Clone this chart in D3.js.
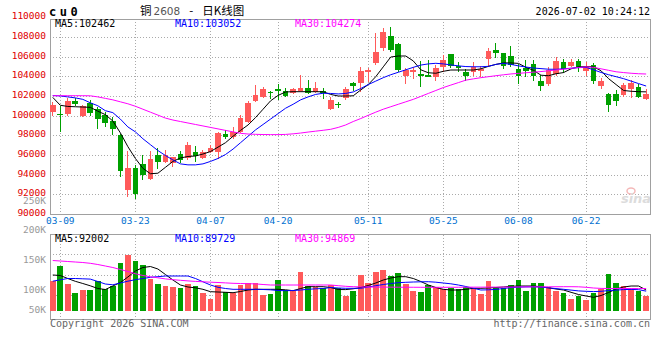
<!DOCTYPE html>
<html>
<head>
<meta charset="utf-8">
<script src="https://cdn.jsdelivr.net/npm/d3@7"></script>
<style>
  html, body { margin: 0; padding: 0; background: #fff; }
  svg { display: block; }
  text { font-family: "DejaVu Sans Mono", monospace; }
</style>
</head>
<body>
<svg id="chart" width="660" height="360"></svg>
<script>
// trading days shown (03-06 .. 07-02)
const dates = ['03-06','03-09','03-10','03-11','03-12','03-13','03-16','03-17','03-18','03-19','03-20',
	'03-23','03-24','03-25','03-26','03-27','03-30','03-31','04-01','04-02','04-03',
	'04-07','04-08','04-09','04-10','04-13','04-14','04-15','04-16','04-17',
	'04-20','04-21','04-22','04-23','04-24','04-27','04-28','04-29','04-30',
	'05-06','05-07','05-08','05-11','05-12','05-13','05-14','05-15',
	'05-18','05-19','05-20','05-21','05-22','05-25','05-26','05-27','05-28','05-29',
	'06-01','06-02','06-03','06-04','06-05','06-08','06-09','06-10','06-11','06-12',
	'06-15','06-16','06-17','06-18','06-22','06-23','06-24','06-25','06-26',
	'06-29','06-30','07-01','07-02']
const dateTicks = ['03-09','03-23','04-07','04-20','05-11','05-25','06-08','06-22']

const opens = [100450,100260,100214,101565,100042,101362,100692,100113,99534,98083,
	92540,94700,95140,93617,96053,95373,95210,96155,95718,96388,
	95718,96388,96388,98185,97850,98418,99433,101565,101910,102480,
	102750,102580,102316,102550,102884,102478,102550,100690,101230,101800,
	103390,103330,104508,105360,106883,108162,107320,104071,104447,104244,
	104173,104000,104955,106305,105087,104508,104447,104610,105797,106710,
	106376,106100,104750,104850,105290,103594,103260,104244,105525,105117,
	105595,104610,105190,103087,102245,102245,102143,102722,102924,101737]
const highs = [101460,101026,101808,101808,101130,101636,100955,100450,99880,98185,
	96489,95038,96053,96489,96764,96600,95880,96489,97403,96966,
	96600,97068,98418,98590,98864,100113,101500,103158,102950,102580,
	103260,102850,102900,104173,103665,103500,102820,101910,101463,102985,
	103495,105016,104883,108467,108913,109075,107400,104850,105016,105594,
	105700,105190,106200,106305,105460,104750,105460,105100,106880,107455,
	106440,107116,105260,105700,105700,104173,105000,106030,105770,105800,
	105770,105460,105360,103900,102376,102650,103330,103665,103250,102800]
const lows = [100010,98418,100012,101026,99940,100012,98720,98925,98053,93850,
	91820,91556,93515,93465,94632,95240,94805,95272,95545,95373,
	95600,96300,95616,97646,97646,98286,99300,101450,101800,101707,
	101636,101900,102200,102400,102200,102300,101737,100620,100800,101636,
	102580,102478,103431,105200,106600,106500,104508,103229,103767,102985,
	103940,103594,104508,104900,104508,103594,104100,104000,105016,105870,
	104750,105000,103260,103940,103594,102550,103100,104100,104350,104950,
	104500,104100,103260,102800,100448,101030,101900,101808,101800,101600]
const closes = [101130,100170,101565,101199,101026,100346,99676,99331,98661,94460,
	94774,92095,94023,95615,95373,96053,95820,95545,97068,95951,
	96388,96730,98316,97850,98418,99778,101300,102143,102752,102346,
	102550,102040,102722,102884,102376,102884,102376,101636,101100,102750,
	103057,104579,104680,106538,108507,106710,104680,104680,104680,104100,
	104000,104914,105695,105117,104914,104071,104955,104750,106640,106376,
	105087,105190,104100,104610,104100,103057,104680,105595,104750,105525,
	104914,105016,103594,103564,101128,101565,103158,103390,101910,102290]

// price moving averages
const ma5 = [101900,101100,100980,100950,100920,100890,100500,100150,99500,98300,
	96900,95700,94700,94150,94200,94800,95400,95750,95900,95950,
	96150,96400,96850,97300,97950,98550,99100,99850,100700,101550,
	102100,102450,102480,102480,102480,102480,102470,102200,102040,102040,
	102060,102650,103200,104000,105000,106000,106100,106100,105600,104700,
	104400,104350,104550,104680,104680,104680,104680,104800,105050,105250,
	105400,105400,105350,104950,104650,104150,104100,104300,104420,104800,
	105000,105020,105010,104600,103800,103200,102600,102520,102480,102462]
const ma10 = [102090,102050,101950,101850,101700,101350,101050,100550,100350,99700,
	98900,98400,97700,97100,96500,96000,95550,95150,95050,95050,
	95150,95400,95700,96100,96650,97300,97950,98600,99150,99700,
	100250,100800,101200,101650,101950,102200,102320,102300,102250,102300,
	102450,102800,103200,103550,103900,104200,104450,104700,104950,105180,
	105300,105360,105300,105200,105100,105030,105010,105010,105050,105250,
	105350,105250,105100,104980,104880,104820,104760,104750,104800,104860,
	104920,104950,104700,104430,104200,104000,103800,103550,103300,103052]
const ma30 = [102070,102070,102070,102070,102070,102060,101950,101800,101650,101450,
	101250,101000,100700,100400,100100,99800,99600,99450,99300,99150,
	99000,98850,98700,98550,98400,98250,98180,98150,98130,98120,
	98120,98140,98200,98280,98380,98470,98560,98660,98850,99100,
	99450,99750,100080,100400,100700,100950,101200,101450,101700,102000,
	102300,102600,102900,103150,103400,103650,103780,103900,104000,104100,
	104190,104280,104340,104400,104460,104520,104600,104680,104760,104850,
	104930,105000,104950,104800,104650,104500,104420,104350,104300,104274]

const volumes = [110700,140000,104000,86700,92000,92000,110000,93300,100000,146700,
	162000,150000,142000,114000,104000,100000,98000,95300,104000,100000,
	86700,74700,102000,88700,85300,102000,105300,105300,82000,84000,
	112000,92000,90700,128000,100000,98700,95300,102000,95300,80700,
	90000,122000,106700,128000,132000,120700,126700,104000,90000,88700,
	102000,97300,93300,96700,93300,97300,96700,84000,110700,96700,
	96700,102000,112000,90000,106700,106700,97300,90000,86700,74000,
	80700,72000,85300,93300,124000,106700,100000,93300,90000,80700]
const volMa5 = [122000,121000,115000,109400,105000,100400,95000,93000,100000,107000,
	118000,130000,137000,139000,134000,123000,112000,102000,98000,96400,
	93400,88600,88000,87400,86600,89000,92000,93400,93400,93400,
	93400,92400,90600,95000,98600,98600,98600,97000,93000,92800,
	94400,97000,101000,106000,112000,116000,118600,118600,115000,109000,
	102000,97000,93400,92000,92000,93400,95400,95400,96000,97000,
	98000,99400,100000,100000,100000,98400,96400,94000,92000,87400,
	83000,80000,77400,81000,87000,94000,98000,100000,100000,92002]
const volMa10 = [109600,112400,115000,115000,114400,113800,109000,104000,102400,106000,
	109600,112600,115000,117400,118600,120000,120000,120000,120000,115000,
	108400,102000,97400,95000,93400,93400,93400,93400,93000,92400,
	91000,90600,91000,92000,93400,94400,95000,97000,96000,95400,
	95400,95400,98000,100600,103000,105000,106600,107400,108000,108400,
	108600,107600,106000,104400,102000,99000,95400,92000,92400,93200,
	95000,96800,97600,98200,98400,97800,96400,94800,93400,91800,
	90200,89400,88800,89400,90800,91800,92800,93200,92600,89729]
const volMa30 = [151000,150000,149000,148000,147000,145400,143000,140000,137000,133000,
	129000,124600,121000,118400,116400,114200,112600,111400,110200,109200,
	108400,107600,107000,106200,105400,105000,104600,104200,103000,102000,
	102000,102000,102000,102000,102000,102000,102000,102000,100600,99400,
	98600,98200,98000,97900,97800,97700,97600,97500,97500,97400,
	97400,97400,97400,97500,97500,97600,97700,97700,97800,97800,
	97900,98000,98100,98200,98300,98300,98400,98500,98600,98600,
	98400,97400,96000,95200,95000,95000,95000,94950,94900,94869]

const priceTicks = d3.range(90000, 110001, 2000)
const volTicks = [250000, 200000, 150000, 100000, 50000]

const RED = '#ff5a5a', GREEN = '#00a000'
const FRAME = '#a0a0a0', GRID = '#aaaaaa'
const maColors = ['#000000', '#0000ff', '#ff00ff']

const plot = { left: 50, right: 650, top: 19, bottom: 214.6 }
const vplot = { top: 234.5, bottom: 319 }

const svg = d3.select('#chart')

const x = d3.scaleBand().domain(d3.range(dates.length)).range([49, 649.9])
const cx = i => x(i) + x.bandwidth() / 2
const bodyW = 5.7

const y = d3.scaleLinear().domain([90000, 110000]).range([214.6, 17.6])
const yv = d3.scaleLinear().domain([50000, 200000]).range([311, 236])
const yvLabel = d3.scaleLinear().domain([100000, 250000]).range([289.7, 200.3])
const vGrid = d3.scaleLinear().domain([0, 4]).range([vplot.top, 315.5])

const tickIdx = dateTicks.map(d => dates.indexOf(d))

// ---- title row
svg.append('text').attr('x', 49).attr('y', 16)
	.style('font-size', '12px').style('font-weight', 'bold').style('letter-spacing', '3.5px')
	.text('cu0')

const title = svg.append('text').attr('x', 140).attr('y', 15)
	.style('font-family', '"Noto Sans CJK SC", sans-serif').style('font-size', '11.5px')
title.append('tspan').text('铜')
title.append('tspan').attr('fill', '#555').style('font-family', '"DejaVu Sans", sans-serif')
	.style('font-size', '10.5px').attr('dx', 2).text('2608')
title.append('tspan').attr('dx', 9).text('-')
title.append('tspan').attr('dx', 9).text('日K线图')

svg.append('text').attr('x', 650).attr('y', 15).attr('text-anchor', 'end')
	.style('font-size', '10px').text('2026-07-02 10:24:12')

// ---- grids
const gridV = svg.append('g').attr('stroke', GRID).attr('stroke-dasharray', '1,2')
	.attr('shape-rendering', 'crispEdges')
tickIdx.forEach(i => {
	gridV.append('line').attr('x1', cx(i)).attr('x2', cx(i)).attr('y1', plot.top).attr('y2', plot.bottom)
	gridV.append('line').attr('x1', cx(i)).attr('x2', cx(i)).attr('y1', vplot.top).attr('y2', vplot.bottom)
})
priceTicks.filter(t => y(t) > plot.top + 2 && y(t) < plot.bottom - 2).forEach(t => {
	gridV.append('line').attr('x1', plot.left).attr('x2', plot.right).attr('y1', y(t)).attr('y2', y(t))
})
d3.range(1, 4).forEach(k => {
	gridV.append('line').attr('x1', plot.left).attr('x2', plot.right).attr('y1', vGrid(k)).attr('y2', vGrid(k))
})

// ---- sina watermark
const logo = svg.append('g').attr('transform', 'translate(636,199)')
logo.append('ellipse').attr('cx', -5).attr('cy', -8).attr('rx', 4).attr('ry', 3)
	.attr('fill', 'none').attr('stroke', '#f4b8b8').attr('stroke-width', 1.5)
logo.append('text').attr('text-anchor', 'middle').attr('y', 4)
	.style('font-family', '"DejaVu Sans", sans-serif').style('font-size', '13px')
	.style('font-style', 'italic').style('font-weight', 'bold').attr('fill', '#dcdcdc').text('sina')

// ---- axes
const yAxis = svg.append('g').attr('transform', `translate(${plot.left},-2)`)
	.call(d3.axisLeft(y).tickValues(priceTicks).tickSize(0).tickPadding(4).tickFormat(d3.format('d')))
yAxis.select('.domain').remove()
yAxis.selectAll('text').attr('fill', '#e00000').style('font-size', '9.5px')
	.style('font-family', '"DejaVu Sans Mono", monospace')

const vAxis = svg.append('g')
volTicks.forEach(t => {
	vAxis.append('text').attr('x', 46).attr('y', Math.min(yvLabel(t), 309.7)).attr('dy', '0.35em')
		.attr('text-anchor', 'end').attr('fill', '#999').style('font-size', '9.5px')
		.text(d3.format('d')(t / 1000) + 'K')
})
// price labels stay on top of the volume labels
yAxis.raise()

const xAxis = svg.append('g').attr('transform', `translate(0,${plot.bottom})`)
	.call(d3.axisBottom(x).tickValues(tickIdx).tickSize(0).tickPadding(3).tickFormat(i => dates[i]))
xAxis.select('.domain').remove()
xAxis.selectAll('text').attr('fill', '#0070d0').style('font-size', '9.5px')
	.style('font-family', '"DejaVu Sans Mono", monospace')

// ---- frames
svg.append('rect').attr('x', plot.left).attr('y', plot.top)
	.attr('width', plot.right - plot.left).attr('height', plot.bottom - plot.top)
	.attr('fill', 'none').attr('stroke', FRAME).attr('shape-rendering', 'crispEdges')
svg.append('rect').attr('x', plot.left).attr('y', vplot.top)
	.attr('width', plot.right - plot.left).attr('height', vplot.bottom - vplot.top)
	.attr('fill', 'none').attr('stroke', FRAME).attr('shape-rendering', 'crispEdges')

// ---- candles
const candles = svg.append('g').attr('shape-rendering', 'crispEdges')
dates.forEach((d, i) => {
	const up = closes[i] >= opens[i]
	const col = up ? RED : GREEN
	candles.append('line').attr('x1', cx(i)).attr('x2', cx(i))
		.attr('y1', y(highs[i])).attr('y2', y(lows[i])).attr('stroke', col)
	const top = y(Math.max(opens[i], closes[i]))
	const bot = y(Math.min(opens[i], closes[i]))
	candles.append('rect').attr('x', cx(i) - bodyW / 2).attr('y', top)
		.attr('width', bodyW).attr('height', Math.max(1, bot - top)).attr('fill', col)
})

// ---- volume bars
const bars = svg.append('g').attr('shape-rendering', 'crispEdges')
volumes.forEach((v, i) => {
	bars.append('rect').attr('x', cx(i) - bodyW / 2).attr('y', yv(v))
		.attr('width', bodyW).attr('height', yv(50000) - yv(v))
		.attr('fill', closes[i] >= opens[i] ? RED : GREEN)
})

// ---- moving averages
const priceLine = d3.line().x((d, i) => cx(i)).y(d => y(d))
const volLine = d3.line().x((d, i) => cx(i)).y(d => yv(d))
;[ma5, ma10, ma30].forEach((s, k) => {
	svg.append('path').attr('d', priceLine(s)).attr('fill', 'none').attr('stroke', maColors[k]).attr('stroke-width', 1)
})
;[volMa5, volMa10, volMa30].forEach((s, k) => {
	svg.append('path').attr('d', volLine(s)).attr('fill', 'none').attr('stroke', maColors[k]).attr('stroke-width', 1)
})

// ---- MA legends
const maNames = ['MA5', 'MA10', 'MA30']
const legendX = [55, 175, 295]
const priceLast = [ma5, ma10, ma30].map(s => s[s.length - 1])
const volLast = [volMa5, volMa10, volMa30].map(s => s[s.length - 1])
maNames.forEach((n, k) => {
	svg.append('text').attr('x', legendX[k]).attr('y', 27).attr('fill', maColors[k])
		.style('font-size', '10px').text(n + ':' + priceLast[k])
	svg.append('text').attr('x', legendX[k]).attr('y', 242).attr('fill', maColors[k])
		.style('font-size', '10px').text(n + ':' + volLast[k])
})

// ---- footer
svg.append('text').attr('x', 50).attr('y', 327).attr('fill', '#666')
	.style('font-size', '10px').text('Copyright 2026 SINA.COM')
svg.append('text').attr('x', 650).attr('y', 327).attr('text-anchor', 'end').attr('fill', '#666')
	.style('font-size', '10px').text('http://finance.sina.com.cn')
</script>
</body>
</html>
